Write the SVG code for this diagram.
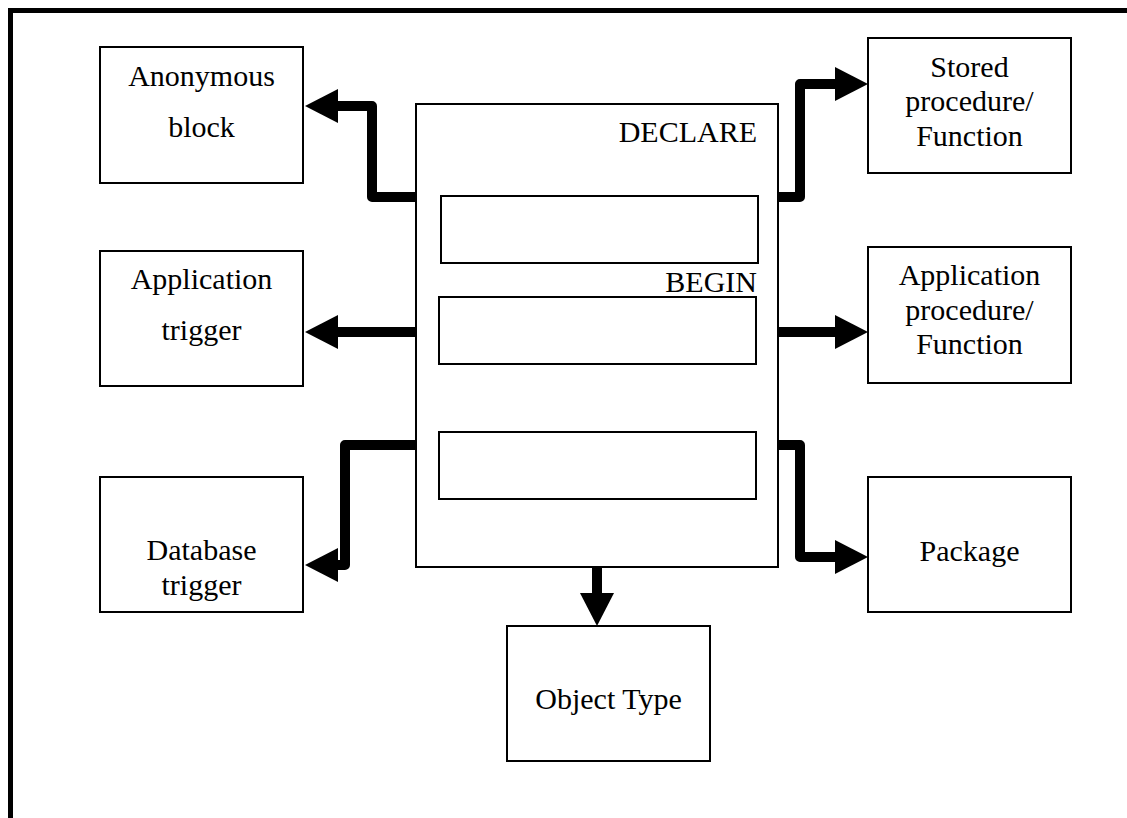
<svg xmlns="http://www.w3.org/2000/svg" width="1127" height="818" viewBox="0 0 1127 818">
<style>
.box{fill:#fff;stroke:#000;stroke-width:2}
.t{font-family:"Liberation Serif","Times New Roman",serif;font-size:30px;fill:#000;text-anchor:middle}
.te{font-family:"Liberation Serif","Times New Roman",serif;font-size:30px;fill:#000;text-anchor:end}
.c{fill:none;stroke:#000;stroke-width:10;stroke-linejoin:round;marker-end:url(#ah)}
</style>
<defs>
<marker id="ah" markerUnits="userSpaceOnUse" viewBox="0 0 33 34" markerWidth="33" markerHeight="34" refX="0" refY="17" orient="auto">
<path d="M0,0 L33,17 L0,34 Z" fill="#000"/>
</marker>
</defs>
<rect width="1127" height="818" fill="#fff"/>
<path d="M10.5,818 V10.5 H1127" fill="none" stroke="#000" stroke-width="5"/>

<g id="plsql-block">
<rect class="box" x="416" y="104" width="362" height="463"/>
<text class="te" x="757" y="142">DECLARE</text>
<rect class="box" x="441" y="196" width="317" height="67"/>
<text class="te" x="757" y="292">BEGIN</text>
<rect class="box" x="439" y="297" width="317" height="67"/>
<rect class="box" x="439" y="432" width="317" height="67"/>
</g>

<g id="anonymous-block">
<rect class="box" x="100" y="47" width="203" height="136"/>
<text class="t" x="201.5" y="86">Anonymous</text>
<text class="t" x="201.5" y="137">block</text>
</g>

<g id="application-trigger">
<rect class="box" x="100" y="251" width="203" height="135"/>
<text class="t" x="201.5" y="289">Application</text>
<text class="t" x="201.5" y="340">trigger</text>
</g>

<g id="database-trigger">
<rect class="box" x="100" y="477" width="203" height="135"/>
<text class="t" x="201.5" y="560">Database</text>
<text class="t" x="201.5" y="595">trigger</text>
</g>

<g id="stored-procedure">
<rect class="box" x="868" y="38" width="203" height="135"/>
<text class="t" x="969.5" y="77">Stored</text>
<text class="t" x="969.5" y="111">procedure/</text>
<text class="t" x="969.5" y="146">Function</text>
</g>

<g id="application-procedure">
<rect class="box" x="868" y="247" width="203" height="136"/>
<text class="t" x="969.5" y="285">Application</text>
<text class="t" x="969.5" y="320">procedure/</text>
<text class="t" x="969.5" y="354">Function</text>
</g>

<g id="package">
<rect class="box" x="868" y="477" width="203" height="135"/>
<text class="t" x="969.5" y="561">Package</text>
</g>

<g id="object-type">
<rect class="box" x="507" y="626" width="203" height="135"/>
<text class="t" x="608.5" y="709">Object Type</text>
</g>

<g id="connectors">
<path class="c" d="M416,197 H372 V106 H338"/>
<path class="c" d="M416,332 H338"/>
<path class="c" d="M416,445 H345 V565 H338"/>
<path class="c" d="M778,197 H800 V84 H835"/>
<path class="c" d="M778,332 H835"/>
<path class="c" d="M778,445 H800 V557 H835"/>
<path class="c" d="M597,567 V593"/>
</g>
</svg>
